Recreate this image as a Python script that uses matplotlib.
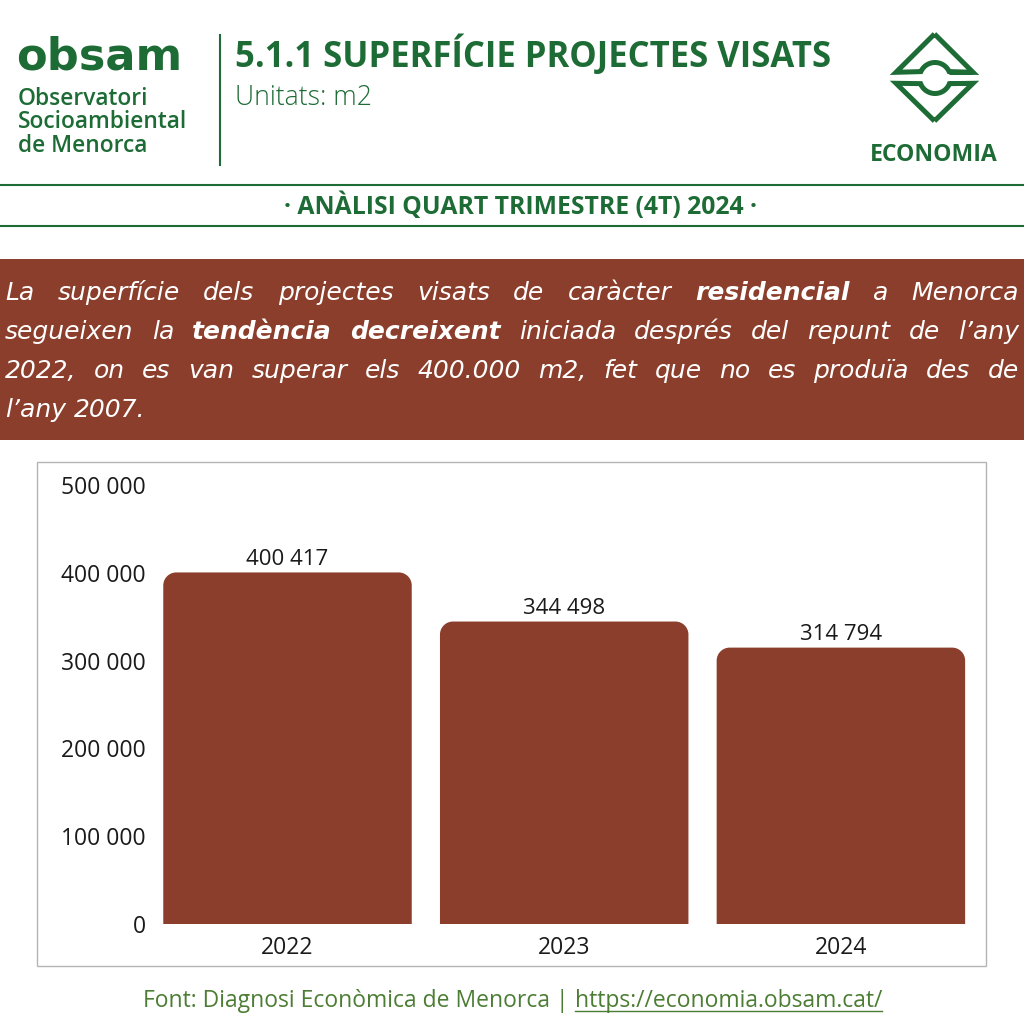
import numpy as np
import matplotlib
matplotlib.use('Agg')
import matplotlib.pyplot as plt
from matplotlib.patches import PathPatch, Rectangle
from matplotlib.path import Path

years = ['2022', '2023', '2024']
surface_m2 = [400417, 344498, 314794]
y_ticks = [0, 100000, 200000, 300000, 400000, 500000]

title = '5.1.1 SUPERFÍCIE PROJECTES VISATS'
units = 'Unitats: m2'
banner = '· ANÀLISI QUART TRIMESTRE (4T) 2024 ·'
# (text, bold) chunks per line of the justified paragraph
paragraph = [
    [('La superfície dels projectes visats de caràcter', False), ('residencial', True), ('a Menorca', False)],
    [('segueixen la', False), ('tendència decreixent', True), ('iniciada després del repunt de l’any', False)],
    [('2022, on es van superar els 400.000 m2, fet que no es produïa des de', False)],
    [('l’any 2007.', False)],
]
source = 'Font: Diagnosi Econòmica de Menorca |'
url = 'https://economia.obsam.cat/'

GREEN = '#1d6b35'
FOOT_GREEN = '#4c7d34'
BROWN = '#8b3e2b'
INK = '#1a1a1a'
FONT = 'Open Sans'
PARA_FONT = 'DejaVu Sans'

W = H = 1024
fig = plt.figure(figsize=(10.24, 10.24), dpi=100)
renderer = fig.canvas.get_renderer()

# pixel-space overlay for header, text box and footer
deco = fig.add_axes([0, 0, 1, 1])
deco.set_xlim(0, W)
deco.set_ylim(H, 0)
deco.axis('off')


def text_width(t):
    return t.get_window_extent(renderer).width


def fit_text(x, y, s, width, **kw):
    kw.setdefault('family', FONT)
    t = deco.text(x, y, s, fontsize=20, va='baseline', **kw)
    t.set_fontsize(20 * width / text_width(t))
    return t


# --- header ---
fit_text(16, 70, 'obsam', 166, weight='bold', color=GREEN, family='DejaVu Sans')
sub = fit_text(18, 128, 'Socioambiental', 169, weight='semibold', color=GREEN)
fs_sub = sub.get_fontsize()
deco.text(18, 105, 'Observatori', fontsize=fs_sub, weight='semibold', color=GREEN, family=FONT, va='baseline')
deco.text(18, 152, 'de Menorca', fontsize=fs_sub, weight='semibold', color=GREEN, family=FONT, va='baseline')
deco.plot([220, 220], [35, 165], color=GREEN, lw=1.5)

fit_text(235, 67, title, 597, weight='bold', color=GREEN)
fit_text(235, 105, units, 137, weight='light', color=GREEN)
fit_text(934, 161, 'ECONOMIA', 128, weight='bold', color=GREEN, ha='center')

# ECONOMIA logo: two triangles with a round bump
th = np.linspace(0, np.pi, 60)
cx, cy, r = 935, 78, 15.5
up_base, lo_base = 72.3, 83.3
up_arc_x = cx + r * np.cos(th)
up_arc_y = cy - r * np.sin(th)
keep = up_arc_y <= up_base
up_arc_x, up_arc_y = up_arc_x[keep], up_arc_y[keep]
upper_x = np.concatenate([[934.5, 973], up_arc_x, [896, 934.5]])
upper_y = np.concatenate([[34, up_base], up_arc_y, [up_base, 34]])
deco.plot(upper_x, upper_y, color=GREEN, lw=3.6, solid_joinstyle='miter', solid_capstyle='butt')
deco.plot([up_arc_x[0], 973], [up_base, up_base], color=GREEN, lw=3.6, solid_capstyle='butt')

lo_arc_x = cx + r * np.cos(th)
lo_arc_y = cy + r * np.sin(th)
keep = lo_arc_y >= lo_base
lo_arc_x, lo_arc_y = lo_arc_x[keep], lo_arc_y[keep]
lower_x = np.concatenate([[934.5, 973], lo_arc_x, [896, 934.5]])
lower_y = np.concatenate([[121, lo_base], lo_arc_y, [lo_base, 121]])
deco.plot(lower_x, lower_y, color=GREEN, lw=3.6, solid_joinstyle='miter', solid_capstyle='butt')
deco.plot([lo_arc_x[0], 973], [lo_base, lo_base], color=GREEN, lw=3.6, solid_capstyle='butt')

# banner
deco.plot([0, W], [185, 185], color=GREEN, lw=1.5)
deco.plot([0, W], [226, 226], color=GREEN, lw=1.5)
fit_text(521, 214, banner, 472, weight='bold', color=GREEN, ha='center')

# --- justified paragraph on brown box ---
deco.add_patch(Rectangle((0, 259), W, 181, facecolor=BROWN, edgecolor='none'))
para_fs = 18
left, right = 5, 1019
base_y = [300, 339, 378, 417]
probe = deco.text(0, 0, 'a a', fontsize=para_fs, family=PARA_FONT, style='italic')
probe_a = deco.text(0, 0, 'aa', fontsize=para_fs, family=PARA_FONT, style='italic')
space_w = text_width(probe) - text_width(probe_a)
probe.remove()
probe_a.remove()

for i, line in enumerate(paragraph):
    words = [(w, b) for chunk, b in line for w in chunk.split()]
    items = []
    for w, b in words:
        t = deco.text(0, base_y[i], w, fontsize=para_fs, family=PARA_FONT, style='italic',
                      weight='bold' if b else 'normal', color='white', va='baseline')
        items.append((t, text_width(t)))
    total = sum(wd for _, wd in items)
    last = i == len(paragraph) - 1
    gap = space_w if last else (right - left - total) / (len(items) - 1)
    x = left
    for t, wd in items:
        t.set_x(x)
        x += wd + gap

# --- chart ---
deco.add_patch(Rectangle((37, 462), 949, 504, facecolor='none', edgecolor='#b5b5b5', lw=1))

ax_l, ax_r, ax_b, ax_t = 150, 980, 924, 485
ax = fig.add_axes([ax_l / W, 1 - ax_b / H, (ax_r - ax_l) / W, (ax_b - ax_t) / H])
ax.set_facecolor('none')
step_px = 276.7
x0 = (ax_l - 287.5) / step_px
x1 = x0 + (ax_r - ax_l) / step_px
ax.set_xlim(x0, x1)
ax.set_ylim(0, 500000)

bar_w = 0.898
rad_px = 13
rx = rad_px / step_px
ry = rad_px * 500000 / (ax_b - ax_t)
k = 0.5523

for i, h in enumerate(surface_m2):
    l, rr = i - bar_w / 2, i + bar_w / 2
    verts = [(l, 0), (l, h - ry),
             (l, h - ry + k * ry), (l + rx - k * rx, h), (l + rx, h),
             (rr - rx, h),
             (rr - rx + k * rx, h), (rr, h - ry + k * ry), (rr, h - ry),
             (rr, 0), (l, 0)]
    codes = [Path.MOVETO, Path.LINETO,
             Path.CURVE4, Path.CURVE4, Path.CURVE4,
             Path.LINETO,
             Path.CURVE4, Path.CURVE4, Path.CURVE4,
             Path.LINETO, Path.CLOSEPOLY]
    ax.add_patch(PathPatch(Path(verts, codes), facecolor=BROWN, edgecolor='none'))
    ax.annotate(f'{h:,}'.replace(',', ' '), (i, h), xytext=(0, 5.5), textcoords='offset points',
                ha='center', va='baseline', fontsize=16, family=FONT, color=INK)

ax.set_xticks(range(len(years)))
ax.set_xticklabels(years)
ax.set_yticks(y_ticks)
ax.set_yticklabels([f'{v:,}'.replace(',', ' ') for v in y_ticks])
ax.tick_params(axis='both', length=0, labelsize=16.5, labelcolor=INK)
ax.tick_params(axis='y', pad=3)
ax.tick_params(axis='x', pad=8.5)
for lab in ax.get_xticklabels() + ax.get_yticklabels():
    lab.set_family(FONT)
for sp in ax.spines.values():
    sp.set_visible(False)

# --- footer ---
foot_fs = 16.5
t1 = deco.text(0, 1007, source, fontsize=foot_fs, family=FONT, color=FOOT_GREEN, va='baseline')
t2 = deco.text(0, 1007, url, fontsize=foot_fs, family=FONT, color=FOOT_GREEN, va='baseline')
w1, w2 = text_width(t1), text_width(t2)
gap = 0.26 * foot_fs * 100 / 72
start = 512.5 - (w1 + gap + w2) / 2
t1.set_x(start)
t2.set_x(start + w1 + gap)
deco.plot([start + w1 + gap, start + w1 + gap + w2], [1011, 1011], color=FOOT_GREEN, lw=1)

fig.savefig('out.png', dpi=100)
